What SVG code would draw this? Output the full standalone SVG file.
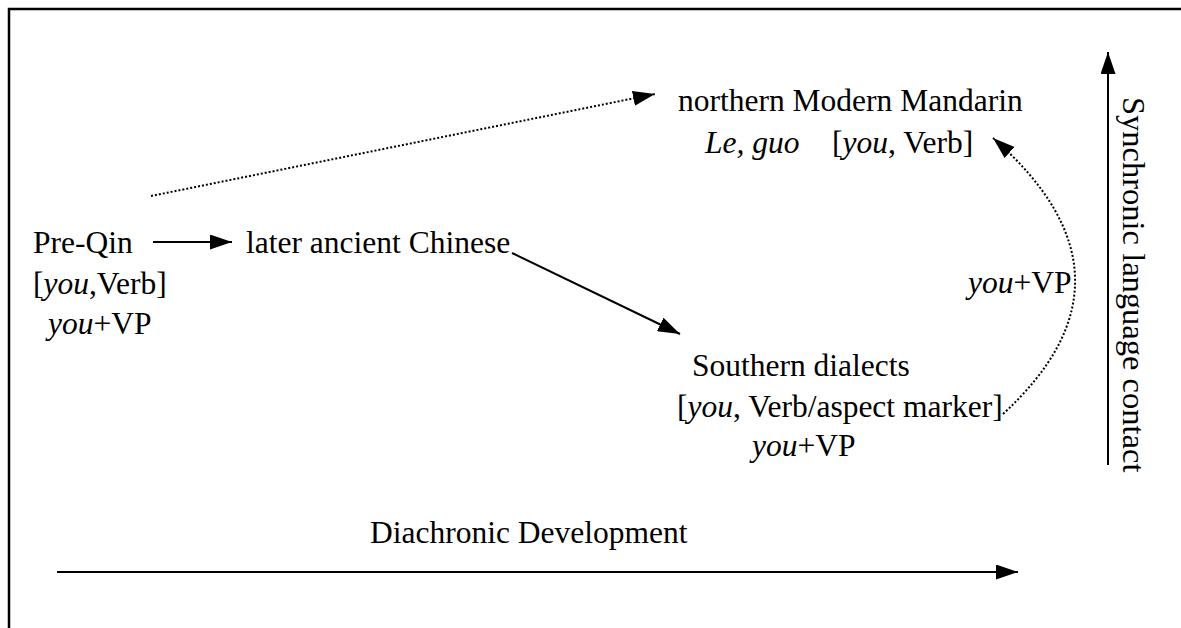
<svg xmlns="http://www.w3.org/2000/svg" width="1181" height="628" viewBox="0 0 1181 628">
<defs>
<style>
text{font-family:"Liberation Serif","Times New Roman",serif;font-size:31.5px;fill:#000}
.it{font-style:italic}
.ln{stroke:#000;stroke-width:2;fill:none}
.dot{stroke:#000;stroke-width:2;fill:none;stroke-dasharray:2 2}
</style>
<marker id="ahb" viewBox="0 0 10 10" refX="10" refY="5" markerWidth="22" markerHeight="15" markerUnits="userSpaceOnUse" orient="auto" preserveAspectRatio="none">
<path d="M0,0 L10,5 L0,10 z" fill="#000"/>
</marker>
</defs>
<rect width="1181" height="628" fill="#fff"/>
<path d="M9,628 V9 H1181" stroke="#000" stroke-width="2.5" fill="none"/>
<g id="connectors">
<line class="ln" x1="153" y1="242" x2="232" y2="242" marker-end="url(#ahb)"/>
<line class="ln" x1="512" y1="253" x2="680" y2="334" marker-end="url(#ahb)"/>
<line class="dot" x1="151" y1="196" x2="655" y2="94" marker-end="url(#ahb)"/>
<path class="dot" d="M1003,414 Q1152,277 993,138" marker-end="url(#ahb)"/>
<line class="ln" x1="57" y1="572" x2="1018" y2="572" marker-end="url(#ahb)"/>
<line class="ln" x1="1108" y1="465" x2="1108" y2="52" marker-end="url(#ahb)"/>
</g>
<g id="preqin">
<text x="33" y="253">Pre-Qin</text>
<text x="33" y="294">[<tspan class="it">you</tspan>,Verb]</text>
<text x="48" y="334"><tspan class="it">you</tspan>+VP</text>
</g>
<g id="later">
<text x="246" y="253">later ancient Chinese</text>
</g>
<g id="northern">
<text x="678" y="111">northern Modern Mandarin</text>
<text x="705" y="153"><tspan class="it">Le, guo</tspan><tspan x="832">[</tspan><tspan class="it">you</tspan>, Verb]</text>
</g>
<g id="southern">
<text x="692" y="376">Southern dialects</text>
<text x="677" y="417">[<tspan class="it">you</tspan>, Verb/aspect marker]</text>
<text x="752" y="456"><tspan class="it">you</tspan>+VP</text>
</g>
<g id="contact-label">
<text x="968" y="293"><tspan class="it">you</tspan>+VP</text>
</g>
<g id="axes-labels">
<text x="370" y="543">Diachronic Development</text>
<text transform="translate(1123,97) rotate(90)" style="font-size:32.5px">Synchronic language contact</text>
</g>
</svg>
